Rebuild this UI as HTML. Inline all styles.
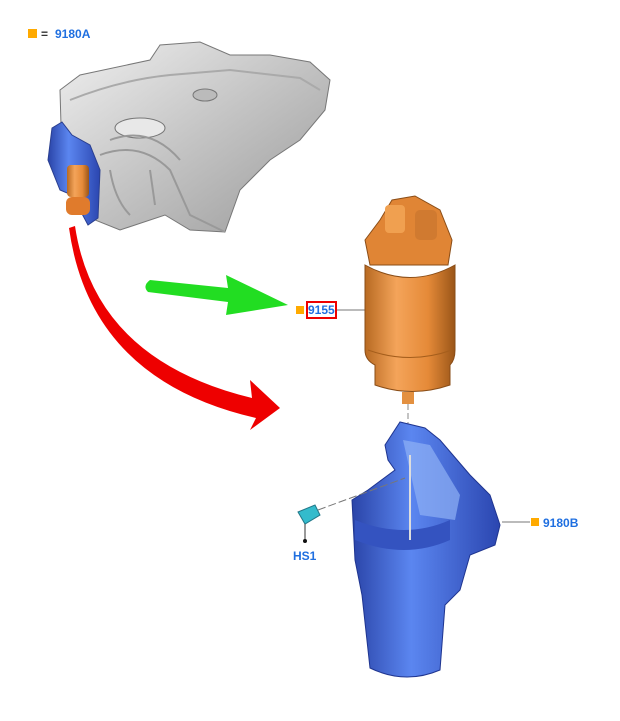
<!DOCTYPE html>
<html><head><meta charset="utf-8"><style>
html,body{margin:0;padding:0;background:#fff;}
svg{display:block;}
text{font-family:"Liberation Sans",Arial,sans-serif;font-weight:bold;font-size:12px;}
</style></head><body>
<svg width="620" height="721" viewBox="0 0 620 721" xmlns="http://www.w3.org/2000/svg">
<defs>
<linearGradient id="tank" x1="0" y1="0" x2="1" y2="1"><stop offset="0" stop-color="#f0f0f0"/><stop offset="0.5" stop-color="#c4c4c4"/><stop offset="1" stop-color="#9a9a9a"/></linearGradient>
<linearGradient id="orng" x1="0" y1="0" x2="1" y2="0"><stop offset="0" stop-color="#b86a22"/><stop offset="0.35" stop-color="#f4a45a"/><stop offset="0.7" stop-color="#e58a38"/><stop offset="1" stop-color="#9a5518"/></linearGradient>
<linearGradient id="blue" x1="0" y1="0" x2="1" y2="0"><stop offset="0" stop-color="#2a44a8"/><stop offset="0.4" stop-color="#5b86f0"/><stop offset="1" stop-color="#2b46b0"/></linearGradient>
</defs>
<rect x="28" y="29" width="9" height="9" fill="#ffaa00"/>
<text x="41" y="38" fill="#333">=</text>
<text x="55" y="38" fill="#1f6fe0">9180A</text>

<!-- tank -->
<path d="M60 90 L80 75 L150 60 L160 45 L200 42 L230 55 L270 55 L310 62 L330 80 L325 110 L300 140 L270 160 L240 190 L225 232 L190 230 L165 215 L120 230 L95 220 L75 200 L62 160 Z" fill="url(#tank)" stroke="#777" stroke-width="1"/>
<path d="M70 100 Q120 80 170 75 L230 70 L300 78 L320 90" fill="none" stroke="#aaa" stroke-width="2"/>
<path d="M110 170 Q115 200 130 215 M150 170 L155 205" fill="none" stroke="#999" stroke-width="2"/>
<ellipse cx="140" cy="128" rx="25" ry="10" fill="#e8e8e8" stroke="#777"/>
<ellipse cx="205" cy="95" rx="12" ry="6" fill="#bbb" stroke="#777"/>
<path d="M100 155 Q140 140 170 170 L190 215 L225 232" fill="none" stroke="#999" stroke-width="2"/>
<path d="M110 140 Q150 125 180 160" fill="none" stroke="#999" stroke-width="2"/>
<path d="M52 128 L62 122 L72 135 L90 145 L100 170 L98 218 L88 225 L80 210 L72 195 L60 190 L48 160 Z" fill="url(#blue)" stroke="#2a3f90"/>
<rect x="67" y="165" width="22" height="32" rx="4" fill="url(#orng)"/>
<rect x="66" y="197" width="24" height="18" rx="6" fill="#e07b2c"/>

<!-- red arrow -->
<path d="M75 226 Q95 360 252 398 L250 380 L280 408 L250 430 L256 418 Q90 380 69 228 Z" fill="#ee0000"/>
<!-- green arrow -->
<path d="M150 280 L228 288 L226 275 L288 305 L226 315 L228 302 L148 292 Q142 286 150 280 Z" fill="#22dd22"/>

<rect x="296" y="306" width="8" height="8" fill="#ffaa00"/>
<rect x="307" y="302" width="29" height="16" fill="#fff" stroke="#e00" stroke-width="2"/>
<text x="308" y="314" fill="#1f6fe0">9155</text>
<line x1="337" y1="310" x2="372" y2="310" stroke="#777" stroke-width="1"/>

<!-- filter -->
<path d="M365 240 L380 220 L392 200 L415 196 L440 210 L452 240 L448 265 L370 265 Z" fill="#e08535" stroke="#8a4d17"/>
<rect x="385" y="205" width="20" height="28" rx="4" fill="#f0a050"/>
<rect x="415" y="210" width="22" height="30" rx="5" fill="#d07a30"/>
<path d="M365 265 Q410 290 455 265 L455 350 Q455 360 450 365 L450 385 Q412 398 375 385 L375 365 Q365 360 365 350 Z" fill="url(#orng)" stroke="#8a4d17"/>
<path d="M368 350 Q410 365 452 350" fill="none" stroke="#a55e1c"/>
<rect x="402" y="392" width="12" height="12" fill="#e39040"/>
<line x1="408" y1="404" x2="408" y2="540" stroke="#888" stroke-dasharray="6,3"/>

<!-- blue housing -->
<path d="M385 445 L400 422 L425 428 L440 440 L470 475 L490 495 L500 525 L495 545 L470 555 L460 590 L445 605 L440 670 Q405 685 370 668 L362 595 L355 560 L352 500 L368 490 L395 470 L388 460 Z" fill="url(#blue)" stroke="#1f3590"/>
<path d="M355 520 Q405 540 450 520 L450 540 Q405 560 355 540 Z" fill="#3453c0"/>
<path d="M403 440 L430 445 L460 495 L455 520 L420 515 Z" fill="#8fb0f5" opacity="0.7"/>
<line x1="410" y1="455" x2="410" y2="540" stroke="#ddd" stroke-width="2"/>
<line x1="502" y1="522" x2="530" y2="522" stroke="#777"/>
<rect x="531" y="518" width="8" height="8" fill="#ffaa00"/>
<text x="543" y="527" fill="#1f6fe0">9180B</text>

<line x1="318" y1="510" x2="405" y2="478" stroke="#777" stroke-dasharray="8,3"/>
<path d="M298 512 L315 505 L320 515 L305 524 Z" fill="#33bbcc" stroke="#227788"/>
<line x1="305" y1="524" x2="305" y2="540" stroke="#333"/>
<circle cx="305" cy="541" r="2" fill="#111"/>
<text x="293" y="560" fill="#1f6fe0">HS1</text>
</svg>
</body></html>
